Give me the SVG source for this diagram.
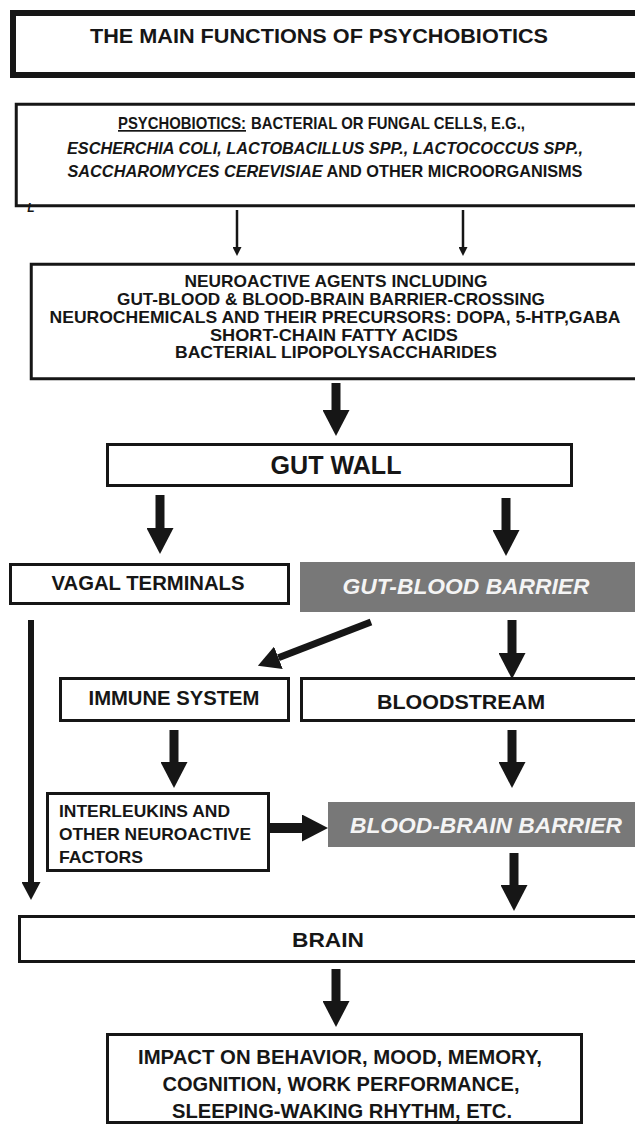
<svg xmlns="http://www.w3.org/2000/svg" width="635" height="1125" viewBox="0 0 635 1125">
<style>
.box{fill:#fff;stroke:#161616;stroke-width:3}
.gray{fill:#787878;stroke:none}
.t{font-family:"Liberation Sans",Arial,sans-serif;font-weight:bold;fill:#161616;text-anchor:middle}
.s{text-anchor:start}
.w{fill:#f4f4f4;font-style:italic}
.i{font-style:italic}
.ar{stroke:#161616;fill:none}
</style>
<defs>
<marker id="mThin" markerUnits="userSpaceOnUse" markerWidth="9" markerHeight="9" refX="0" refY="4.5" orient="auto"><path d="M0,0 L9,4.5 L0,9 Z" fill="#161616"/></marker>
<marker id="mThick" markerUnits="userSpaceOnUse" markerWidth="26" markerHeight="27" refX="0" refY="13.5" orient="auto"><path d="M0,0 L26,13.5 L0,27 Z" fill="#161616"/></marker>
<marker id="mLong" markerUnits="userSpaceOnUse" markerWidth="18" markerHeight="19" refX="0" refY="9.5" orient="auto"><path d="M0,0 L18,9.5 L0,19 Z" fill="#161616"/></marker>
<marker id="mDiag" markerUnits="userSpaceOnUse" markerWidth="22" markerHeight="24" refX="0" refY="12" orient="auto"><path d="M0,0 L22,12 L0,24 Z" fill="#161616"/></marker>
</defs>
<rect width="635" height="1125" fill="#fff"/>

<g id="title">
<rect x="13" y="13" width="650" height="62" fill="#fff" stroke="#161616" stroke-width="6"/>
<text class="t" font-size="21" x="319" y="43" textLength="458" lengthAdjust="spacingAndGlyphs">THE MAIN FUNCTIONS OF PSYCHOBIOTICS</text>
</g>

<g id="psychobiotics">
<rect class="box" x="16.25" y="104.25" width="650" height="101.5" stroke-width="2.5"/>
<text class="t s" font-size="17" x="118" y="129" textLength="128" lengthAdjust="spacingAndGlyphs" text-decoration="underline">PSYCHOBIOTICS:</text>
<text class="t s" font-size="17" x="251" y="129" textLength="274" lengthAdjust="spacingAndGlyphs">BACTERIAL OR FUNGAL CELLS, E.G.,</text>
<text class="t i" font-size="17" x="325" y="154" textLength="516" lengthAdjust="spacingAndGlyphs">ESCHERCHIA COLI, LACTOBACILLUS SPP., LACTOCOCCUS SPP.,</text>
<text class="t" font-size="17" x="325" y="177" textLength="515" lengthAdjust="spacingAndGlyphs"><tspan font-style="italic">SACCHAROMYCES CEREVISIAE</tspan> AND OTHER MICROORGANISMS</text>
<text class="t i" font-size="12" x="31" y="212">L</text>
</g>

<g id="neuroactive">
<rect class="box" x="31.25" y="264.25" width="650" height="114.5" stroke-width="2.5"/>
<text class="t" font-size="17" x="336" y="287" textLength="303" lengthAdjust="spacingAndGlyphs">NEUROACTIVE AGENTS INCLUDING</text>
<text class="t" font-size="17" x="331" y="305" textLength="428" lengthAdjust="spacingAndGlyphs">GUT-BLOOD &amp; BLOOD-BRAIN BARRIER-CROSSING</text>
<text class="t" font-size="17" x="335" y="323" textLength="571" lengthAdjust="spacingAndGlyphs">NEUROCHEMICALS AND THEIR PRECURSORS: DOPA, 5-HTP,GABA</text>
<text class="t" font-size="17" x="334" y="341" textLength="248" lengthAdjust="spacingAndGlyphs">SHORT-CHAIN FATTY ACIDS</text>
<text class="t" font-size="17" x="336" y="358" textLength="322" lengthAdjust="spacingAndGlyphs">BACTERIAL LIPOPOLYSACCHARIDES</text>
</g>

<g id="gutwall">
<rect class="box" x="107.5" y="444.5" width="464" height="41"/>
<text class="t" font-size="25" x="336" y="474" textLength="131" lengthAdjust="spacingAndGlyphs">GUT WALL</text>
</g>

<g id="vagal">
<rect class="box" x="10.5" y="564.5" width="278" height="39"/>
<text class="t" font-size="19.5" x="148" y="590" textLength="193" lengthAdjust="spacingAndGlyphs">VAGAL TERMINALS</text>
</g>

<g id="gutblood">
<rect class="gray" x="300" y="562" width="340" height="50"/>
<text class="t w" font-size="22" x="466" y="594" textLength="247" lengthAdjust="spacingAndGlyphs">GUT-BLOOD BARRIER</text>
</g>

<g id="immune">
<rect class="box" x="60.5" y="678.5" width="228" height="42"/>
<text class="t" font-size="19.5" x="174" y="705" textLength="171" lengthAdjust="spacingAndGlyphs">IMMUNE SYSTEM</text>
</g>

<g id="bloodstream">
<rect class="box" x="301.5" y="678.5" width="340" height="42"/>
<text class="t" font-size="21" x="461" y="709" textLength="168" lengthAdjust="spacingAndGlyphs">BLOODSTREAM</text>
</g>

<g id="interleukins">
<rect class="box" x="47.5" y="793.5" width="221" height="77"/>
<text class="t s" font-size="17" x="59" y="817" textLength="171" lengthAdjust="spacingAndGlyphs">INTERLEUKINS AND</text>
<text class="t s" font-size="17" x="59" y="840" textLength="192" lengthAdjust="spacingAndGlyphs">OTHER NEUROACTIVE</text>
<text class="t s" font-size="17" x="59" y="863" textLength="84" lengthAdjust="spacingAndGlyphs">FACTORS</text>
</g>

<g id="bbb">
<rect class="gray" x="328" y="802" width="312" height="45"/>
<text class="t w" font-size="22" x="486" y="833" textLength="272" lengthAdjust="spacingAndGlyphs">BLOOD-BRAIN BARRIER</text>
</g>

<g id="brain">
<rect class="box" x="19.5" y="916.5" width="620" height="45"/>
<text class="t" font-size="21" x="328" y="947" textLength="72" lengthAdjust="spacingAndGlyphs">BRAIN</text>
</g>

<g id="impact">
<rect class="box" x="107.5" y="1034.5" width="474" height="88"/>
<text class="t" font-size="20" x="340" y="1064" textLength="404" lengthAdjust="spacingAndGlyphs">IMPACT ON BEHAVIOR, MOOD, MEMORY,</text>
<text class="t" font-size="20" x="341" y="1091" textLength="357" lengthAdjust="spacingAndGlyphs">COGNITION, WORK PERFORMANCE,</text>
<text class="t" font-size="20" x="342" y="1118" textLength="340" lengthAdjust="spacingAndGlyphs">SLEEPING-WAKING RHYTHM, ETC.</text>
</g>

<g id="connectors">
<line class="ar" x1="237" y1="210" x2="237" y2="247" stroke-width="2.5" marker-end="url(#mThin)"/>
<line class="ar" x1="463" y1="210" x2="463" y2="247" stroke-width="2.5" marker-end="url(#mThin)"/>
<line class="ar" x1="336" y1="383" x2="336" y2="410" stroke-width="9" marker-end="url(#mThick)"/>
<line class="ar" x1="160" y1="495" x2="160" y2="528" stroke-width="9" marker-end="url(#mThick)"/>
<line class="ar" x1="506" y1="498" x2="506" y2="530" stroke-width="9" marker-end="url(#mThick)"/>
<line class="ar" x1="31" y1="620" x2="31" y2="882" stroke-width="6" marker-end="url(#mLong)"/>
<line class="ar" x1="371" y1="622" x2="278.4" y2="657.8" stroke-width="7" marker-end="url(#mDiag)"/>
<line class="ar" x1="512" y1="620" x2="512" y2="653" stroke-width="9" marker-end="url(#mThick)"/>
<line class="ar" x1="174" y1="730" x2="174" y2="762" stroke-width="9" marker-end="url(#mThick)"/>
<line class="ar" x1="512" y1="730" x2="512" y2="762" stroke-width="9" marker-end="url(#mThick)"/>
<line class="ar" x1="270" y1="828" x2="302" y2="828" stroke-width="10" marker-end="url(#mThick)"/>
<line class="ar" x1="514" y1="853" x2="514" y2="885" stroke-width="9" marker-end="url(#mThick)"/>
<line class="ar" x1="336" y1="969" x2="336" y2="1001" stroke-width="9" marker-end="url(#mThick)"/>
</g>
</svg>
